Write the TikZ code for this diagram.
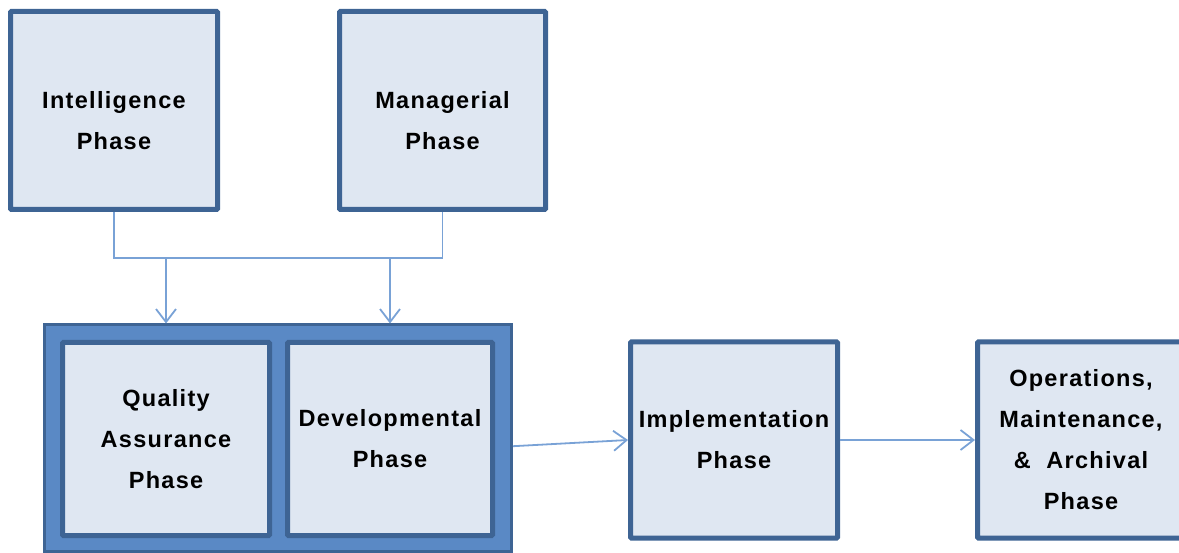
\documentclass[tikz,border=0pt]{standalone}
\usepackage{fontspec}
\setmainfont{Liberation Sans}[LetterSpace=5.5]
\usetikzlibrary{arrows.meta}
\definecolor{boxfill}{HTML}{DFE7F2}
\definecolor{boxline}{HTML}{3E6494}
\definecolor{groupfill}{HTML}{5A89C5}
\definecolor{linkblue}{HTML}{79A2D6}
\newcommand{\toppad}{\rule{0pt}{37pt}}

\begin{document}
\begin{tikzpicture}[x=1pt,y=-1pt,
 phase/.style={draw=boxline,fill=boxfill,line width=5pt,rounded corners=1pt,
  minimum width=207pt,minimum height=196pt,inner sep=0pt,align=center,
  font=\fontsize{23.5}{41}\selectfont\bfseries},
 group/.style={draw=boxline,fill=groupfill,line width=3pt,
  minimum width=467pt,minimum height=226pt},
 link/.style={draw=linkblue,line width=1.8pt},
 flow/.style={link,-{Straight Barb[length=13pt,width=20pt]}}]
 \useasboundingbox (0,0) rectangle (1179,553);
 \node[phase,minimum height=198pt] (intel) at (114,110.5) {\toppad Intelligence\\Phase};
 \node[phase,minimum height=198pt,minimum width=206pt] (manag) at (442.5,110.5) {\toppad Managerial\\Phase};
 \node[group] (grp) at (278,438) {};
 \node[phase,minimum height=193pt] (qa) at (166,439) {Quality\\Assurance\\Phase};
 \node[phase,minimum height=193pt,minimum width=205pt] (dev) at (390,439) {Developmental\\Phase};
 \node[phase] (impl) at (734,440) {Implementation\\Phase};
 \node[phase] (ops) at (1081,440) {Operations,\\Maintenance,\\\&~~Archival\\Phase};
 % links
 \coordinate (bus) at (0,258);
 \draw[link] (intel.south) |- (manag.south |- bus) -- (manag.south);
 \draw[flow] (qa |- bus) -- (qa |- grp.north);
 \draw[flow] (dev |- bus) -- (dev |- grp.north);
 \draw[flow] (grp.-2) -- (impl.west);
 \draw[flow] (impl.east) -- (ops.west);
\end{tikzpicture}
\end{document}
